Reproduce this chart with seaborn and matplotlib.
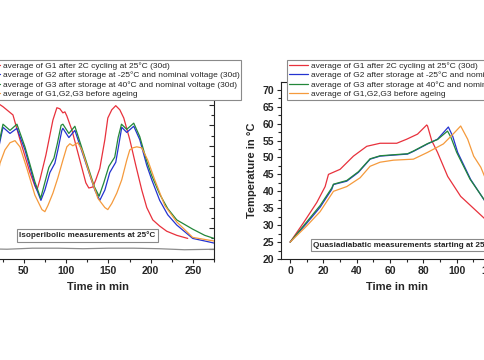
import numpy as np
import pandas as pd
import matplotlib
matplotlib.use("Agg")
import matplotlib.pyplot as plt
from matplotlib.ticker import MultipleLocator
import seaborn as sns

sns.set_theme(style="ticks")
plt.rcParams['font.family'] = ['Liberation Sans', 'DejaVu Sans']

labels = ["average of G1 after 2C cycling at 25°C (30d)",
          "average of G2 after storage at -25°C and nominal voltage (30d)",
          "average of G3 after storage at 40°C and nominal voltage (30d)",
          "average of G1,G2,G3 before ageing"]
colors = ["#e8313c", "#2433d0", "#23873a", "#f59a3c"]

# ---- left panel: isoperibolic ----
L_red_x = [0, 5, 10, 15, 19, 21.6, 25.2, 31.1, 37.0, 45.3, 57.1, 63.0, 65.4, 68.9, 76.0, 84.3, 89.0, 92.5, 96.1, 98.5,
           100.8, 106.9, 116.2, 123.3, 126.8, 131.6, 135.1, 139.8, 145.8, 149.3, 154.0, 158.7, 163.5, 168.2, 175.3,
           182.4, 189.5, 195.4, 202.5, 210.7, 219.0, 230.9, 243.9]
L_red_y = [25.5, 28.0, 32.5, 37.0, 39.8, 40.0, 39.8, 39.4, 39.0, 36.6, 33.4, 32.1, 31.7, 32.7, 35.1, 38.5, 39.7, 39.6, 39.2, 39.3,
           38.9, 37.5, 34.6, 32.4, 31.9, 32.0, 32.7, 33.8, 36.6, 38.7, 39.5, 39.9, 39.5, 38.7, 36.6,
           34.1, 31.7, 30.0, 28.8, 28.2, 27.7, 27.3, 27.0]

L_blue_x = [0, 6, 12, 18, 25.2, 33.5, 41.7, 51.2, 63.0, 70.1, 74.8, 80.7, 86.6, 90.2, 94.9, 96.1, 103.2, 110.3, 122.1,
            133.9, 139.8, 145.8, 151.6, 158.7, 162.3, 165.8, 171.7, 180.0, 187.1, 195.4, 201.3, 210.7, 220.2, 230.9,
            249.8, 264.0, 275.0]
L_blue_y = [25.5, 27.5, 31.0, 35.0, 37.8, 37.2, 37.7, 35.6, 32.2, 30.7, 31.7, 33.4, 34.3, 35.6, 37.5, 37.7, 36.8, 37.5, 34.6,
            31.7, 30.7, 31.7, 33.4, 34.4, 36.1, 37.8, 37.3, 37.9, 36.6, 34.1, 32.7, 30.7, 29.3, 28.3,
            27.0, 26.75, 26.55]

L_green_x = [0, 6, 12, 18, 25.2, 33.5, 41.7, 51.2, 63.0, 69.8, 74.0, 79.5, 85.5, 89.5, 94.0, 96.1, 103.2, 110.3, 122.1,
             133.5, 139.0, 144.5, 150.5, 157.5, 161.5, 165.5, 171.7, 180.0, 187.1, 195.4, 201.3, 210.7, 220.2, 230.9,
             249.8, 264.0, 275.0]
L_green_y = [25.5, 27.7, 31.3, 35.3, 38.1, 37.5, 38.1, 35.9, 32.5, 30.9, 32.2, 33.9, 34.8, 36.2, 38.0, 38.1, 37.2, 37.9, 34.9,
             32.0, 31.1, 32.4, 34.0, 34.9, 36.8, 38.1, 37.6, 38.2, 36.9, 34.5, 33.1, 31.3, 29.9, 28.8,
             27.9, 27.3, 27.0]

L_orange_x = [0, 6, 12, 18, 21.6, 27.5, 33.5, 39.4, 45.3, 53.5, 63.0, 71.3, 74.8, 78.4, 84.3, 90.2, 96.1, 100.8, 104.4,
              107.9, 113.8, 118.6, 128.0, 137.5, 145.8, 149.3, 154.0, 159.9, 165.8, 171.7, 175.3, 178.8, 183.6, 189.5,
              196.6, 204.8, 216.7, 230.9, 249.8, 264.0, 275.0]
L_orange_y = [25.5, 27.0, 29.5, 32.5, 34.3, 35.6, 36.3, 36.5, 35.9, 33.8, 31.2, 29.8, 29.6, 30.2, 31.4, 32.9, 34.6, 35.9, 36.2,
              36.0, 36.3, 35.6, 33.2, 30.9, 30.0, 29.8, 30.4, 31.4, 32.7, 34.6, 35.6, 35.8, 35.9, 35.8,
              34.6, 32.7, 30.2, 28.6, 27.1, 26.9, 26.75]

L_amb_x = [0, 30, 60, 90, 120, 150, 180, 210, 240, 275]
L_amb_y = [26.0, 25.95, 26.05, 26.05, 26.0, 26.05, 26.05, 26.0, 25.9, 25.95]

# ---- right panel: quasiadiabatic ----
R_red_x = [0, 8, 16, 21, 23, 30, 38, 46, 54, 64, 70, 76.5, 82, 82.5, 85, 88.5, 94.6, 102.4, 117.5, 125, 135]
R_red_y = [25.0, 30.7, 36.7, 41.4, 45.0, 46.5, 50.4, 53.3, 54.2, 54.2, 55.4, 56.9, 59.6, 59.3, 55.0, 51.5, 44.4, 38.5, 31.6, 29.8, 28.5]

R_blue_x = [0, 10, 18, 25, 26, 34, 41, 48, 54, 62, 70.5, 74, 82.5, 88.5, 95, 97.6, 100.6, 108.4, 117.5, 125, 135]
R_blue_y = [25.0, 30.6, 35.3, 40.6, 42.0, 43.0, 45.6, 49.5, 50.4, 50.7, 51.0, 51.8, 54.0, 55.4, 59.0, 56.3, 51.5, 43.5, 36.7, 33.5, 31.0]

R_green_x = [0, 10, 18, 25, 26, 34, 41, 48, 54, 62, 70.5, 74, 82.5, 88.5, 94.5, 96.5, 100.0, 108.0, 117.5, 125, 135]
R_green_y = [25.0, 31.0, 35.8, 41.0, 42.1, 43.2, 45.8, 49.6, 50.5, 50.8, 51.1, 51.9, 54.1, 55.3, 57.8, 56.0, 51.5, 43.6, 36.8, 33.6, 31.1]

R_orange_x = [0, 10, 18, 26, 34, 42, 48, 54, 62, 74, 82.5, 92, 98, 102.4, 106.6, 110.2, 114.5, 117.5, 125, 135]
R_orange_y = [25.0, 29.8, 34.0, 40.0, 41.4, 44.0, 47.4, 48.6, 49.2, 49.5, 51.5, 54.0, 57.0, 59.3, 55.4, 50.4, 47.1, 43.5, 37.5, 33.0]

W, H = 485, 360
fig = plt.figure(figsize=(W / 100, H / 100), dpi=100)

def fx(px):
    return px / W

def fy(py):
    return 1 - py / H

axL = fig.add_axes([fx(-18.3), fy(259), (214 + 18.3) / W, (259 - 82) / H])
axR = fig.add_axes([fx(281), fy(259), (232.3) / W, (259 - 82) / H])

lw = 0.9
for xs, ys, c, lab in [(L_red_x, L_red_y, colors[0], labels[0]),
                       (L_blue_x, L_blue_y, colors[1], labels[1]),
                       (L_green_x, L_green_y, colors[2], labels[2]),
                       (L_orange_x, L_orange_y, colors[3], labels[3])]:
    sns.lineplot(x=xs, y=ys, ax=axL, color=c, lw=lw, label=lab, sort=False)
sns.lineplot(x=L_amb_x, y=L_amb_y, ax=axL, color="#8c8c8c", lw=lw, sort=False)

for xs, ys, c, lab in [(R_red_x, R_red_y, colors[0], labels[0]),
                       (R_blue_x, R_blue_y, colors[1], labels[1]),
                       (R_green_x, R_green_y, colors[2], labels[2]),
                       (R_orange_x, R_orange_y, colors[3], labels[3])]:
    sns.lineplot(x=xs, y=ys, ax=axR, color=c, lw=lw, label=lab, sort=False)

# left axis styling
axL.set_xlim(0, 275)
axL.set_ylim(25, 42.2)
axL.xaxis.set_major_locator(MultipleLocator(50))
axL.xaxis.set_minor_locator(MultipleLocator(25))
axL.yaxis.set_major_locator(MultipleLocator(2))
axL.yaxis.set_minor_locator(MultipleLocator(1))
axL.tick_params(axis='y', which='both', left=False, right=True, labelleft=False, direction='in')
axL.tick_params(axis='y', which='major', length=3.5, width=0.8)
axL.tick_params(axis='y', which='minor', length=2, width=0.8)
axL.tick_params(axis='x', which='major', direction='out', length=3, width=0.8, labelsize=7.5, pad=2)
axL.tick_params(axis='x', which='minor', direction='out', length=2, width=0.8)
axL.set_xlabel("Time in min", fontsize=8, fontweight='bold', labelpad=4)

axR.set_xlim(-5.5, 134)
axR.set_ylim(20, 72.3)
axR.xaxis.set_major_locator(MultipleLocator(20))
axR.xaxis.set_minor_locator(MultipleLocator(10))
axR.yaxis.set_major_locator(MultipleLocator(5))
axR.yaxis.set_minor_locator(MultipleLocator(2.5))
axR.tick_params(axis='both', which='major', direction='out', length=3, width=0.8, labelsize=7.5, pad=2)
axR.tick_params(axis='both', which='minor', direction='out', length=2, width=0.8)
axR.set_xlabel("Time in min", fontsize=8, fontweight='bold', labelpad=4)
axR.set_ylabel("Temperature in °C", fontsize=8, fontweight='bold', labelpad=4)

for ax in (axL, axR):
    for s in ax.spines.values():
        s.set_linewidth(0.8)
        s.set_color("#222222")
    for t in ax.get_xticklabels() + ax.get_yticklabels():
        t.set_fontweight('bold')
    if ax.get_legend():
        ax.get_legend().remove()

# legends
for ax, left_px in ((axL, -21), (axR, 287)):
    h, l = ax.get_legend_handles_labels()
    leg = ax.legend(h[:4], l[:4], loc='upper left',
                    bbox_to_anchor=(fx(left_px), fy(60)), bbox_transform=fig.transFigure,
                    fontsize=6.0, frameon=True, fancybox=False, framealpha=1,
                    edgecolor="#8a8a8a", borderpad=0.22, labelspacing=0.2,
                    handlelength=2.3, handletextpad=0.35, borderaxespad=0)
    leg.get_frame().set_linewidth(0.8)
    leg.set_zorder(10)

axL.text(fx(19), fy(235.5), "Isoperibolic measurements at 25°C", transform=fig.transFigure,
         fontsize=5.9, fontweight='bold', va='center', ha='left',
         bbox=dict(boxstyle='square,pad=0.3', fc='white', ec='#8a8a8a', lw=0.8), zorder=9)
axR.text(fx(313), fy(245), "Quasiadiabatic measurements starting at 25°C", transform=fig.transFigure,
         fontsize=5.9, fontweight='bold', va='center', ha='left',
         bbox=dict(boxstyle='square,pad=0.3', fc='white', ec='#8a8a8a', lw=0.8), zorder=9)

fig.savefig("out.png", dpi=100)
